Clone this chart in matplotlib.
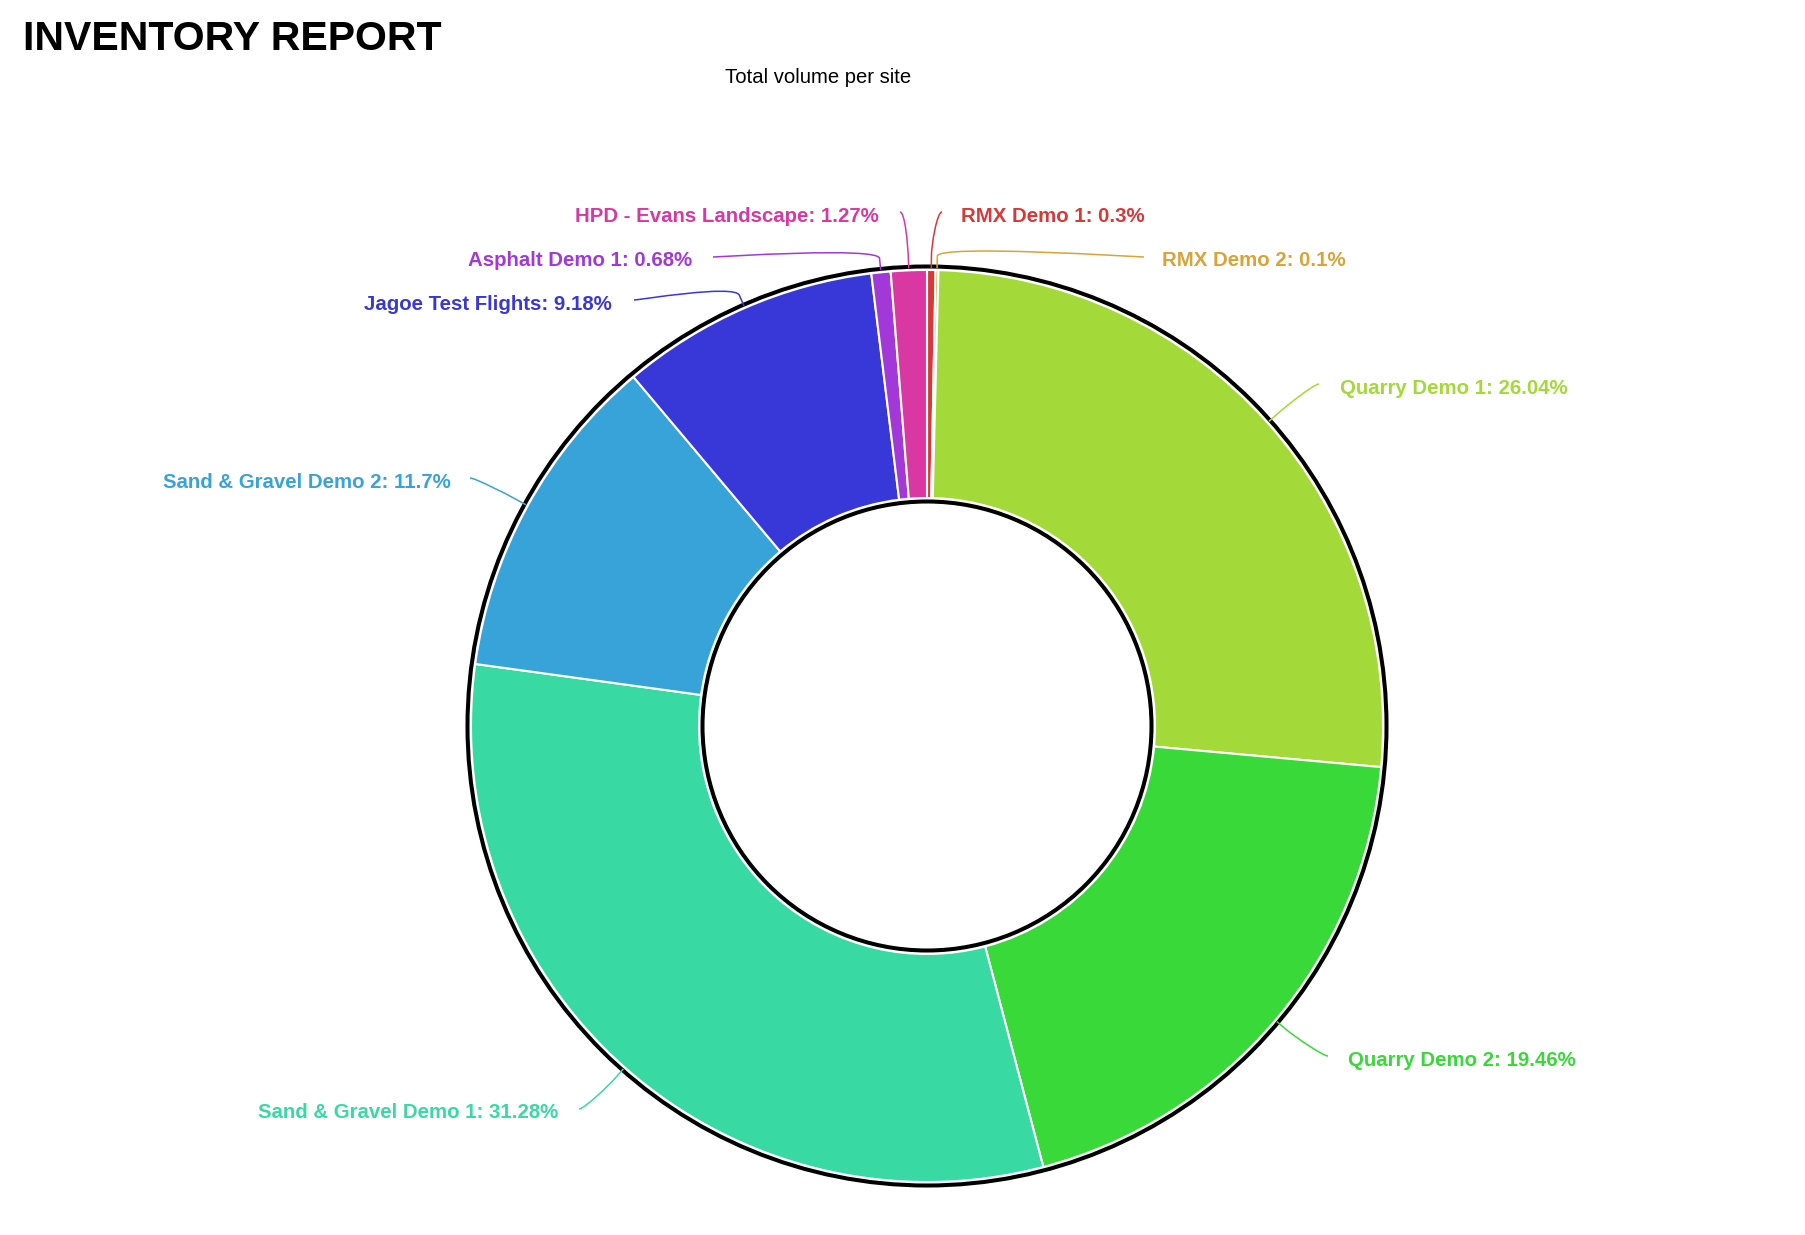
import numpy as np
import matplotlib
matplotlib.use('Agg')
import matplotlib.pyplot as plt
from matplotlib.path import Path
from matplotlib.patches import PathPatch, Circle

# ---- data ----
sites = ['RMX Demo 1', 'RMX Demo 2', 'Quarry Demo 1', 'Quarry Demo 2',
         'Sand & Gravel Demo 1', 'Sand & Gravel Demo 2', 'Jagoe Test Flights',
         'Asphalt Demo 1', 'HPD - Evans Landscape']
shares = [0.3, 0.1, 26.04, 19.46, 31.28, 11.7, 9.18, 0.68, 1.27]
colors = ['#D93838', '#D9A338', '#A3D938', '#38D938', '#38D9A3',
          '#38A3D9', '#3838D9', '#A338D9', '#D938A3']
title = 'INVENTORY REPORT'
subtitle = 'Total volume per site'

# ---- layout (pixel space, y downwards) ----
W, H = 1806, 1235
CX, CY = 927, 726
R_OUT, R_IN = 456, 228
# connector end near each label, side on which the text sits, gap to text
label_layout = [
    (942, 212, 'left', 19),
    (1144, 257, 'left', 18),
    (1319, 384, 'left', 21),
    (1328, 1056, 'left', 20),
    (579, 1109, 'right', 21),
    (470, 478, 'right', 19),
    (634, 300, 'right', 22),
    (713, 257, 'right', 21),
    (900, 212, 'right', 21),
]

plt.rcParams['font.family'] = ['Liberation Sans', 'DejaVu Sans']

fig = plt.figure(figsize=(W / 100, H / 100), dpi=100)
ax = fig.add_axes([0, 0, 1, 1])

wedges, _ = ax.pie(shares, colors=colors, startangle=-90, counterclock=True,
                   radius=R_OUT, center=(CX, CY),
                   wedgeprops=dict(width=R_OUT - R_IN, edgecolor='white',
                                   linewidth=1.5))
ax.set_xlim(0, W)
ax.set_ylim(H, 0)
ax.set_aspect('equal')
ax.axis('off')

ax.add_patch(Circle((CX, CY), R_OUT + 3.5, fill=False, ec='black', lw=2.9, zorder=3))
ax.add_patch(Circle((CX, CY), R_IN - 3.5, fill=False, ec='black', lw=2.9, zorder=3))

for w, name, val, col, (ex, ey, side, gap) in zip(wedges, sites, shares, colors, label_layout):
    mid = np.deg2rad((w.theta1 + w.theta2) / 2)
    tx, ty = CX + (R_OUT + 2) * np.cos(mid), CY + (R_OUT + 2) * np.sin(mid)
    bx, by = CX + (R_OUT + 14) * np.cos(mid), CY + (R_OUT + 14) * np.sin(mid)
    c1 = (ex + (-5 if side == 'left' else 5), ey)
    c2 = (2 * bx - tx, 2 * by - ty)
    verts = [(ex, ey), c1, c2, (bx, by), (tx, ty)]
    codes = [Path.MOVETO, Path.CURVE4, Path.CURVE4, Path.CURVE4, Path.LINETO]
    ax.add_patch(PathPatch(Path(verts, codes), fill=False, ec=col, lw=1.1, zorder=4))
    if side == 'left':
        ax.text(ex + gap, ey + 9.5, f'{name}: {val:g}%', color=col, fontsize=14.7,
                fontweight='bold', ha='left', va='baseline')
    else:
        ax.text(ex - gap, ey + 9.5, f'{name}: {val:g}%', color=col, fontsize=14.7,
                fontweight='bold', ha='right', va='baseline')

ax.text(23, 50, title, fontsize=29.5, fontweight='bold', color='black',
        ha='left', va='baseline')
ax.text(818, 83, subtitle, fontsize=14.6, color='black', ha='center', va='baseline')

fig.savefig('out.png', dpi=100, facecolor='white')
